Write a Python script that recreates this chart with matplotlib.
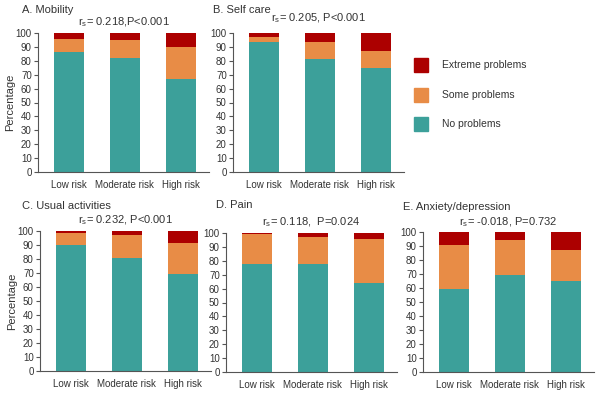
import numpy as np
import matplotlib
matplotlib.use("Agg")
import matplotlib.pyplot as plt
from matplotlib.patches import Rectangle

plt.rcParams['font.family'] = ['Liberation Sans', 'DejaVu Sans']
plt.rcParams['mathtext.fontset'] = 'custom'
plt.rcParams['mathtext.rm'] = 'Liberation Sans'

groups = ["Low risk", "Moderate risk", "High risk"]

# no problems / some problems / extreme problems (%)
mobility_no = [86.5, 82, 67]
mobility_some = [9.5, 13, 23]
mobility_ext = [4, 5, 10]

selfcare_no = [93.5, 81, 75]
selfcare_some = [3.5, 12.5, 12]
selfcare_ext = [3, 6.5, 13]

usual_no = [90, 81, 69]
usual_some = [8.5, 16, 22.5]
usual_ext = [1.5, 3, 8.5]

pain_no = [77.5, 77.5, 64]
pain_some = [22, 19.5, 32]
pain_ext = [0.5, 3, 4]

anx_no = [59.5, 69.5, 65]
anx_some = [31.5, 24.5, 22.5]
anx_ext = [9, 6, 12.5]

titles = ["A. Mobility", "B. Self care", "C. Usual activities", "D. Pain", "E. Anxiety/depression"]
stats = [r"r$_\mathregular{s}$= 0.218,P<0.001", r"r$_\mathregular{s}$= 0.205, P<0.001",
         r"r$_\mathregular{s}$= 0.232, P<0.001", r"r$_\mathregular{s}$= 0.118,  P=0.024",
         r"r$_\mathregular{s}$= -0.018, P=0.732"]
legend_labels = ["Extreme problems", "Some problems", "No problems"]

c_no = "#3ca09a"
c_some = "#e88c46"
c_ext = "#ac0000"
txt = "#333333"

data = [
    (mobility_no, mobility_some, mobility_ext),
    (selfcare_no, selfcare_some, selfcare_ext),
    (usual_no, usual_some, usual_ext),
    (pain_no, pain_some, pain_ext),
    (anx_no, anx_some, anx_ext),
]

W, H = 600, 394
fig = plt.figure(figsize=(6, 3.94), dpi=100)

# axes boxes in pixels: left, top, right, bottom
boxes = [(38, 33, 209, 172), (233, 33, 404, 172),
         (40, 231, 211, 371), (226, 233, 397, 372), (423, 232, 594, 372)]
title_pos = [(22, 10), (213, 10), (22, 206), (216, 205), (403, 207)]
stat_y = [22, 18, 220, 222, 222]

x = np.arange(len(groups))
for i, (no, some, ext) in enumerate(data):
    l, t, r, b = boxes[i]
    ax = fig.add_axes([l / W, 1 - b / H, (r - l) / W, (b - t) / H])
    no = np.array(no); some = np.array(some); ext = np.array(ext)
    ax.bar(x, no, width=0.54, color=c_no)
    ax.bar(x, some, width=0.54, bottom=no, color=c_some)
    ax.bar(x, ext, width=0.54, bottom=no + some, color=c_ext)
    ax.set_xlim(-0.55, 2.5)
    ax.set_ylim(0, 100)
    ax.set_yticks(range(0, 101, 10))
    ax.set_xticks(x)
    ax.set_xticklabels(groups)
    for s in ["top", "right"]:
        ax.spines[s].set_visible(False)
    for s in ["left", "bottom"]:
        ax.spines[s].set_color("#555555")
        ax.spines[s].set_linewidth(0.8)
    ax.tick_params(axis="both", labelsize=7, colors="#555555", labelcolor=txt,
                   length=3, width=0.8)
    ax.tick_params(axis="x", length=0, pad=6)
    ax.tick_params(axis="y", pad=1.5)
    if i in (0, 2):
        ax.set_ylabel("Percentage", fontsize=8, color=txt, labelpad=0)
    tx, ty = title_pos[i]
    fig.text(tx / W, 1 - ty / H, titles[i], fontsize=8, color=txt, va="center", ha="left")
    fig.text((l + r) / 2 / W, 1 - stat_y[i] / H, stats[i], fontsize=8, color=txt,
             va="center", ha="center")

# legend
leg_cols = [c_ext, c_some, c_no]
leg_y = [65, 95, 124]
for lab, col, ly in zip(legend_labels, leg_cols, leg_y):
    fig.patches.append(Rectangle((414 / W, 1 - (ly + 7) / H), 14 / W, 14 / H,
                                 transform=fig.transFigure, color=col))
    fig.text(442 / W, 1 - ly / H, lab, fontsize=7.5, color=txt, va="center", ha="left")

fig.savefig("out.png", dpi=100)
